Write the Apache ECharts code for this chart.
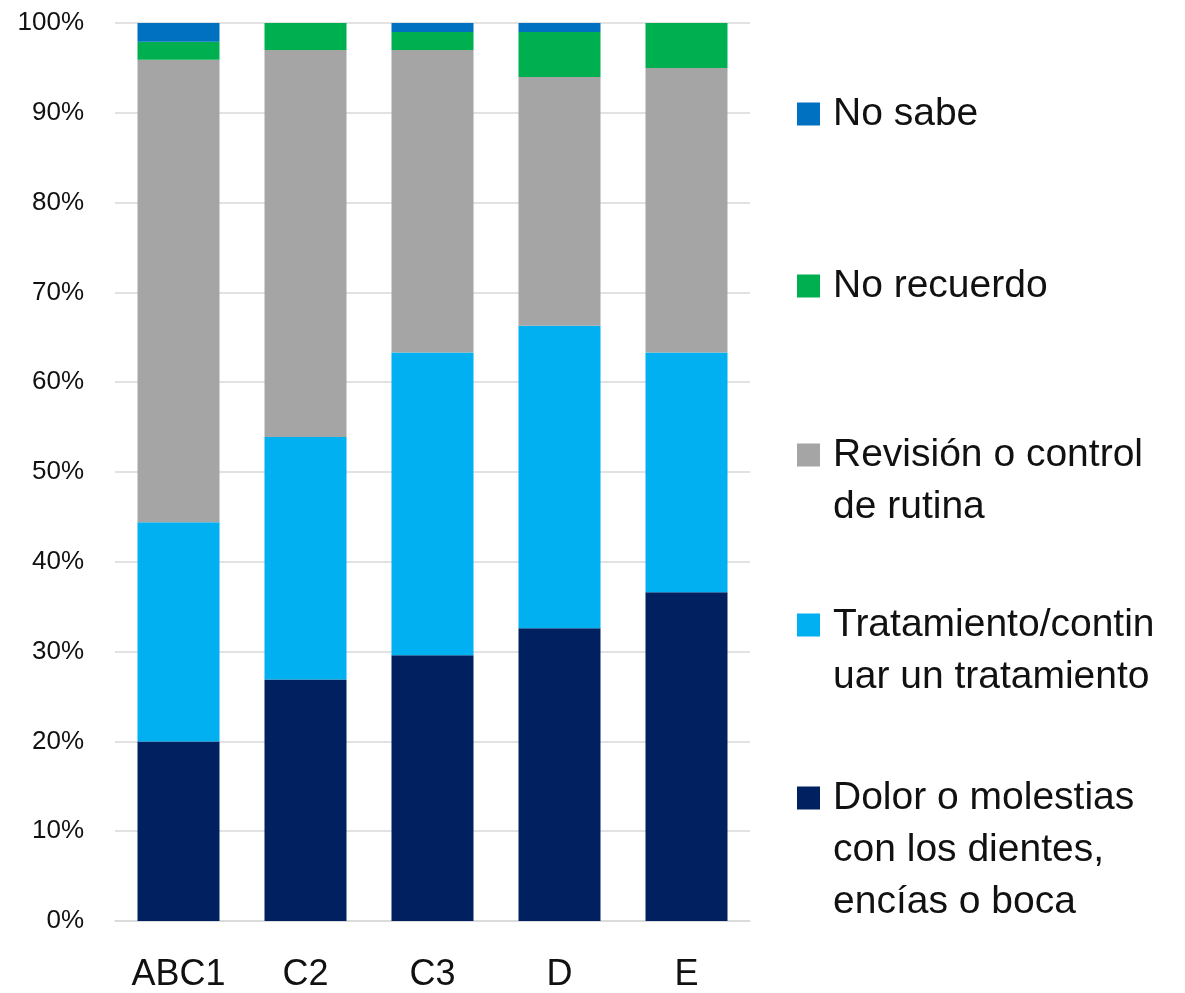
<!DOCTYPE html>
<html lang="es">
<head>
    <meta charset="UTF-8">
    <title>Motivo de la consulta</title>
    <script src="https://cdn.jsdelivr.net/npm/echarts@6/dist/echarts.min.js"></script>
    <style>
        html, body { margin: 0; padding: 0; background: #fff; }
        #main { width: 1185px; height: 993px; }
    </style>
</head>
<body>
<div id="main"></div>
<script>
// datos (%)
var categories = ['ABC1', 'C2', 'C3', 'D', 'E'];
var dolor = [20.0, 26.9, 29.6, 32.6, 36.6];
var tratamiento = [24.4, 27.0, 33.7, 33.7, 26.7];
var revision = [51.5, 43.1, 33.7, 27.7, 31.7];
var noRecuerdo = [2.0, 3.0, 2.0, 5.0, 5.0];
var noSabe = [2.1, 0, 1.0, 1.0, 0];
var yTicks = [0, 10, 20, 30, 40, 50, 60, 70, 80, 90, 100];

var font = "'Liberation Sans', Arial, sans-serif";

// nombre, datos, color, lineas del texto de leyenda, centro de la primera linea
var seriesInfo = [
    { name: 'Dolor o molestias con los dientes, encías o boca', data: dolor, color: '#002060',
      lines: ['Dolor o molestias', 'con los dientes,', 'encías o boca'], y: 798 },
    { name: 'Tratamiento/continuar un tratamiento', data: tratamiento, color: '#00B0F0',
      lines: ['Tratamiento/contin', 'uar un tratamiento'], y: 625 },
    { name: 'Revisión o control de rutina', data: revision, color: '#A5A5A5',
      lines: ['Revisión o control', 'de rutina'], y: 455 },
    { name: 'No recuerdo', data: noRecuerdo, color: '#00B050',
      lines: ['No recuerdo'], y: 286 },
    { name: 'No sabe', data: noSabe, color: '#0070C0',
      lines: ['No sabe'], y: 114 }
];

var myChart = echarts.init(document.getElementById('main'));

var legends = seriesInfo.map(function (s) {
    var rich = {
        m: { width: 23, height: 23, backgroundColor: s.color },
        g: { width: 13 },
        ind: { width: 36 },
        t: { fontSize: 39, fontFamily: font, color: '#111', lineHeight: 52 }
    };
    return {
        data: [s.name],
        left: 792,
        top: s.y - 26,
        padding: 0,
        icon: 'rect',
        itemWidth: 0,
        itemHeight: 0,
        selectedMode: false,
        formatter: function () {
            return s.lines.map(function (l, i) {
                return (i === 0 ? '{m|}{g|}' : '{ind|}') + '{t|' + l + '}';
            }).join('\n');
        },
        textStyle: { rich: rich, lineHeight: 52 }
    };
});

var option = {
    animation: false,
    legend: legends,
    grid: { left: 115, right: 435, top: 23, bottom: 70 },
    xAxis: {
        type: 'category',
        data: categories,
        axisTick: { show: false },
        axisLine: { lineStyle: { color: '#D9D9D9', width: 1.5 } },
        axisLabel: { color: '#111', fontSize: 36, fontFamily: font, margin: 36 }
    },
    yAxis: {
        type: 'value',
        min: yTicks[0],
        max: yTicks[yTicks.length - 1],
        interval: 10,
        axisLine: { show: false },
        axisTick: { show: false },
        splitLine: { lineStyle: { color: '#D9D9D9', width: 1.5 } },
        axisLabel: { color: '#111', fontSize: 26, fontFamily: font, margin: 31, formatter: '{value}%' }
    },
    series: seriesInfo.map(function (s) {
        return {
            name: s.name,
            type: 'bar',
            stack: 'total',
            barWidth: 82,
            data: s.data,
            itemStyle: { color: s.color }
        };
    })
};

option && myChart.setOption(option);
</script>
</body>
</html>
